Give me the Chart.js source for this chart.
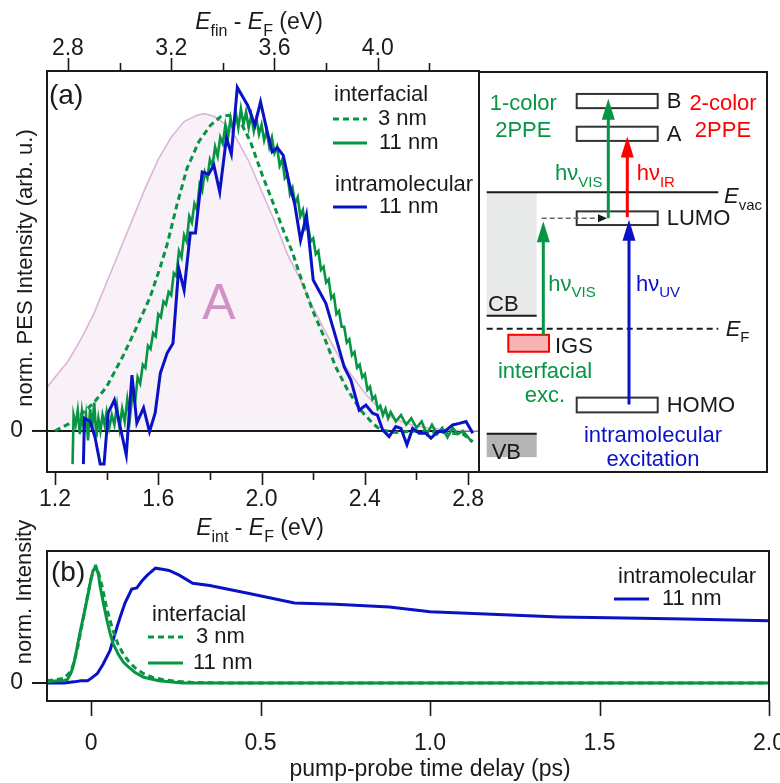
<!DOCTYPE html>
<html>
<head>
<meta charset="utf-8">
<script src="https://cdn.jsdelivr.net/npm/chart.js@4.4.1/dist/chart.umd.min.js"></script>
<style>
    html, body { margin: 0; padding: 0; background: #fff; width: 780px; height: 783px; overflow: hidden; }
    canvas { position: absolute; }
    #specChart { left: 0; top: 0; }
    #schemeChart { left: 479px; top: 71px; }
    #kinChart { left: 0; top: 500px; }
</style>
</head>
<body>
<canvas id="specChart" width="500" height="545"></canvas>
<canvas id="kinChart" width="780" height="283"></canvas>
<canvas id="schemeChart" width="290" height="402"></canvas>
<script>
// ---- panel (a): spectra, [E_int - E_F (eV), norm. intensity] ----
const pesIntra11 = [
    [1.310, -0.105], [1.314, 0.040], [1.336, 0.030], [1.355, -0.020], [1.375, -0.105], [1.390, -0.105],
    [1.406, 0.057], [1.430, 0.098], [1.452, 0.014], [1.476, -0.076], [1.498, 0.177], [1.517, 0.025],
    [1.543, 0.073], [1.566, -0.002], [1.588, 0.057], [1.608, 0.183], [1.634, 0.246], [1.657, 0.278],
    [1.679, 0.515], [1.700, 0.446], [1.724, 0.627], [1.744, 0.627], [1.770, 0.820], [1.795, 0.813],
    [1.815, 0.842], [1.838, 0.757], [1.864, 0.928], [1.883, 0.877], [1.906, 1.088], [1.947, 1.030],
    [1.974, 0.968], [1.996, 1.042], [2.022, 0.947], [2.041, 0.884], [2.061, 0.897], [2.084, 0.873],
    [2.106, 0.789], [2.128, 0.720], [2.151, 0.604], [2.174, 0.683], [2.200, 0.478], [2.249, 0.404],
    [2.287, 0.298], [2.320, 0.203], [2.346, 0.161], [2.378, 0.066], [2.404, 0.082], [2.430, 0.056],
    [2.449, 0.050], [2.469, 0.003], [2.494, -0.018], [2.520, 0.014], [2.540, 0.008], [2.563, -0.044],
    [2.585, 0.008], [2.611, -0.007], [2.637, -0.007], [2.656, -0.023], [2.682, -0.002], [2.708, -0.002],
    [2.740, 0.019], [2.766, 0.024], [2.792, 0.030], [2.818, -0.007]
];
const pesInter11 = [
    [1.268, -0.105], [1.272, 0.05], [1.280, 0.02], [1.288, 0.065], [1.296, -0.01], [1.304, 0.06],
    [1.312, 0.00], [1.320, 0.05], [1.328, -0.03], [1.336, 0.07], [1.344, 0.01], [1.352, 0.09],
    [1.360, -0.02], [1.368, 0.04], [1.376, 0.00], [1.384, 0.05], [1.392, 0.02], [1.400, 0.06],
    [1.410, 0.01], [1.420, 0.05], [1.430, 0.02], [1.440, 0.08], [1.450, 0.01], [1.460, 0.07],
    [1.470, 0.03], [1.480, 0.10], [1.490, 0.04], [1.500, 0.12], [1.510, 0.09], [1.520, 0.17],
    [1.530, 0.15], [1.540, 0.21], [1.550, 0.20], [1.560, 0.27], [1.570, 0.26], [1.580, 0.31],
    [1.590, 0.30], [1.600, 0.37], [1.610, 0.36], [1.620, 0.41], [1.630, 0.40], [1.640, 0.44],
    [1.650, 0.43], [1.660, 0.50], [1.670, 0.49], [1.680, 0.57], [1.690, 0.55], [1.700, 0.62],
    [1.710, 0.60], [1.720, 0.68], [1.730, 0.66], [1.740, 0.72], [1.750, 0.70], [1.760, 0.78],
    [1.770, 0.76], [1.780, 0.82], [1.790, 0.80], [1.800, 0.86], [1.810, 0.84], [1.820, 0.90],
    [1.830, 0.87], [1.840, 0.93], [1.850, 0.91], [1.860, 0.97], [1.870, 0.93], [1.880, 0.99],
    [1.890, 0.95], [1.900, 1.01], [1.910, 0.96], [1.920, 1.02], [1.930, 0.97], [1.940, 1.01],
    [1.950, 0.96], [1.960, 1.00], [1.970, 0.95], [1.980, 0.99], [1.990, 0.94], [2.000, 0.97],
    [2.010, 0.92], [2.020, 0.95], [2.030, 0.90], [2.040, 0.93], [2.050, 0.88], [2.060, 0.90],
    [2.070, 0.84], [2.080, 0.86], [2.090, 0.80], [2.100, 0.81], [2.110, 0.75], [2.120, 0.77],
    [2.130, 0.72], [2.140, 0.74], [2.150, 0.68], [2.160, 0.70], [2.170, 0.64], [2.180, 0.65],
    [2.190, 0.60], [2.200, 0.61], [2.210, 0.56], [2.220, 0.57], [2.230, 0.51], [2.240, 0.52],
    [2.250, 0.47], [2.260, 0.48], [2.270, 0.42], [2.280, 0.43], [2.290, 0.37], [2.300, 0.38],
    [2.310, 0.33], [2.320, 0.33], [2.330, 0.28], [2.340, 0.29], [2.350, 0.24], [2.360, 0.25],
    [2.370, 0.20], [2.380, 0.21], [2.390, 0.17], [2.400, 0.18], [2.410, 0.13], [2.420, 0.14],
    [2.430, 0.10], [2.440, 0.11], [2.450, 0.07], [2.460, 0.08], [2.470, 0.05], [2.480, 0.07],
    [2.490, 0.04], [2.500, 0.06], [2.520, 0.03], [2.540, 0.05], [2.560, 0.02], [2.580, 0.04],
    [2.600, 0.01], [2.620, 0.03], [2.640, -0.01], [2.660, 0.02], [2.680, -0.01], [2.700, 0.01],
    [2.720, -0.02], [2.740, 0.01], [2.760, -0.01], [2.780, 0.00], [2.800, -0.02], [2.815, -0.035]
];
const pesInter3 = [
    [1.200, 0.000], [1.271, 0.030], [1.349, 0.088], [1.400, 0.140], [1.465, 0.240], [1.517, 0.330],
    [1.569, 0.425], [1.608, 0.520], [1.634, 0.590], [1.672, 0.715], [1.711, 0.831], [1.757, 0.916],
    [1.802, 0.968], [1.841, 0.995], [1.873, 1.000], [1.918, 0.979], [1.957, 0.916], [2.003, 0.810],
    [2.048, 0.715], [2.087, 0.630], [2.119, 0.567], [2.151, 0.488], [2.197, 0.383], [2.242, 0.298],
    [2.287, 0.203], [2.333, 0.130], [2.384, 0.066], [2.430, 0.024], [2.462, 0.003], [2.520, -0.005],
    [2.600, 0.000], [2.700, -0.005], [2.780, -0.010], [2.818, -0.034]
];
const pesPeakA = [
    [1.169, 0.138], [1.20, 0.17], [1.25, 0.22], [1.30, 0.29], [1.35, 0.37], [1.40, 0.47],
    [1.45, 0.57], [1.50, 0.67], [1.55, 0.77], [1.60, 0.86], [1.65, 0.93], [1.70, 0.98],
    [1.75, 1.00], [1.78, 1.005], [1.82, 0.995], [1.86, 0.97], [1.90, 0.93], [1.95, 0.855],
    [2.00, 0.76], [2.05, 0.665], [2.10, 0.56], [2.15, 0.48], [2.20, 0.39], [2.25, 0.31],
    [2.30, 0.235], [2.35, 0.175], [2.40, 0.12], [2.45, 0.075], [2.50, 0.045], [2.55, 0.027],
    [2.60, 0.016], [2.65, 0.009], [2.70, 0.005], [2.75, 0.002], [2.80, 0.001], [2.846, 0.0]
];
const eIntMajor = [1.2, 1.6, 2.0, 2.4, 2.8];
const eIntMinor = [1.4, 1.8, 2.2, 2.6];
const eFinMajor = [2.8, 3.2, 3.6, 4.0];
const eFinMinor = [3.0, 3.4, 3.8, 4.2];
const hvIR = 1.55;              // E_fin = E_int + h nu_IR
const eIntRange = [1.169, 2.846];
const pesRange = [-0.13, 1.14];

// ---- panel (b): dynamics, [delay (ps), norm. intensity] ----
const kinIntra11 = [
    [-0.13, 0.0], [-0.08, 0.0], [-0.05, 0.01], [-0.03, 0.02], [-0.01, 0.02], [0.0, 0.04],
    [0.018, 0.08], [0.035, 0.16], [0.056, 0.28], [0.07, 0.42], [0.086, 0.57], [0.10, 0.69],
    [0.12, 0.81], [0.135, 0.82], [0.15, 0.88], [0.166, 0.93], [0.19, 0.99], [0.21, 0.98],
    [0.23, 0.97], [0.26, 0.93], [0.30, 0.86], [0.35, 0.84], [0.47, 0.77], [0.60, 0.69],
    [0.72, 0.68], [0.88, 0.655], [1.0, 0.615], [1.2, 0.59], [1.38, 0.57], [1.53, 0.562],
    [1.75, 0.552], [2.0, 0.537]
];
const kinInter11 = [
    [-0.13, 0.01], [-0.10, 0.02], [-0.08, 0.02], [-0.07, 0.03], [-0.06, 0.08], [-0.053, 0.14],
    [-0.045, 0.25], [-0.033, 0.43], [-0.022, 0.58], [-0.012, 0.72], [0.0, 0.90], [0.006, 0.97],
    [0.015, 1.0], [0.022, 0.93], [0.027, 0.83], [0.037, 0.68], [0.047, 0.54], [0.056, 0.43],
    [0.065, 0.34], [0.08, 0.25], [0.095, 0.18], [0.106, 0.15], [0.13, 0.09], [0.155, 0.05],
    [0.20, 0.02], [0.27, 0.0], [0.5, 0.0], [1.0, 0.0], [1.5, 0.0], [2.0, 0.0]
];
const kinInter3 = [
    [-0.13, 0.02], [-0.10, 0.03], [-0.08, 0.04], [-0.06, 0.10], [-0.05, 0.18], [-0.04, 0.30],
    [-0.03, 0.45], [-0.02, 0.60], [-0.01, 0.76], [0.0, 0.90], [0.012, 1.0], [0.022, 0.95],
    [0.032, 0.84], [0.045, 0.66], [0.055, 0.55], [0.065, 0.45], [0.08, 0.33], [0.095, 0.25],
    [0.11, 0.19], [0.13, 0.13], [0.155, 0.08], [0.18, 0.05], [0.21, 0.03], [0.25, 0.015],
    [0.30, 0.005], [0.40, 0.0], [1.0, 0.0], [2.0, 0.0]
];
const delayTicks = [0, 0.5, 1.0, 1.5, 2.0];
const delayTickLabels = ['0', '0.5', '1.0', '1.5', '2.0'];
const delayRange = [-0.13, 2.0];
const kinRange = [-0.155, 1.138];

// ---- energy scheme (eV relative to E_F) ----
const levelNames = ['B', 'A', 'LUMO', 'HOMO'];
const levelTop = [4.30, 3.70, 2.15, -1.26];
const levelBottom = [4.04, 3.44, 1.90, -1.53];
const eVac = 2.50;
const eCB = 0.24;
const eVB = -1.92;
const igsBand = [-0.11, -0.42];
const schemeRange = [-2.64, 4.72];

const FONT = '"Liberation Sans", Arial, Helvetica, sans-serif';
const GREEN = '#079543';
const BLUE = '#0a12c6';
const RED = '#ff0000';
const INK = '#1a1a1a';
const KIN_TOP = 500;   // page offset of the panel (b) canvas

const toXY = arr => arr.map(p => ({ x: p[0], y: p[1] }));

// draws text with italic / subscript parts, y is the baseline
function richText(ctx, parts, x, y, opt) {
    const size = opt.size || 22;
    const sub = Math.round(size * 0.7);
    const fontOf = k => (k.includes('i') ? 'italic ' : '') + (k.includes('s') ? sub : size) + 'px ' + FONT;
    let w = 0;
    parts.forEach(([t, k]) => { ctx.font = fontOf(k); w += ctx.measureText(t).width; });
    let cx = opt.align === 'center' ? x - w / 2 : (opt.align === 'right' ? x - w : x);
    ctx.save();
    ctx.fillStyle = opt.color || INK;
    ctx.textAlign = 'left';
    ctx.textBaseline = 'alphabetic';
    parts.forEach(([t, k]) => {
        ctx.font = fontOf(k);
        ctx.fillText(t, cx, y + (k.includes('s') ? size * 0.3 : 0));
        cx += ctx.measureText(t).width;
    });
    ctx.restore();
}

function plainText(ctx, t, x, y, size, color, align) {
    ctx.save();
    ctx.font = size + 'px ' + FONT;
    ctx.fillStyle = color || INK;
    ctx.textAlign = align || 'left';
    ctx.textBaseline = 'middle';
    ctx.fillText(t, x, y);
    ctx.restore();
}

function seg(ctx, x0, y0, x1, y1, color, w, dash) {
    ctx.save();
    ctx.strokeStyle = color;
    ctx.lineWidth = w;
    ctx.setLineDash(dash || []);
    ctx.beginPath();
    ctx.moveTo(x0, y0);
    ctx.lineTo(x1, y1);
    ctx.stroke();
    ctx.restore();
}

function xTicks(ctx, scale, values, yEdge, len) {
    values.forEach(v => {
        const px = Math.round(scale.getPixelForValue(v)) + 0.5;
        seg(ctx, px, yEdge, px, yEdge + len, INK, 1.6);
    });
}

const fixedSize = (w, h) => scale => {
    if (w !== null) scale.width = w;
    if (h !== null) scale.height = h;
    scale.paddingLeft = scale.paddingRight = scale.paddingTop = scale.paddingBottom = 0;
};

const tickFont = { family: FONT, size: 23 };

// ---------------- panel (a) spectra ----------------
const specDecor = {
    id: 'specDecor',
    beforeDatasetsDraw(chart) {
        const { ctx, chartArea: a, scales } = chart;
        const y0 = scales.y.getPixelForValue(0);
        seg(ctx, a.left, y0, a.right, y0, INK, 2);
        ctx.save();
        ctx.font = '50px ' + FONT;
        ctx.fillStyle = '#d291c5';
        ctx.textAlign = 'center';
        ctx.fillText('A', 219, 319);
        ctx.restore();
    },
    afterDraw(chart) {
        const { ctx, chartArea: a, scales } = chart;
        ctx.save();
        ctx.strokeStyle = INK;
        ctx.lineWidth = 2;
        ctx.strokeRect(a.left, a.top, a.right - a.left - 1, a.bottom - a.top);
        ctx.restore();
        xTicks(ctx, scales.x, eIntMajor, a.bottom, 13);
        xTicks(ctx, scales.x, eIntMinor, a.bottom, 8);
        xTicks(ctx, scales.xTop, eFinMajor, a.top, -13);
        xTicks(ctx, scales.xTop, eFinMinor, a.top, -8);
        const y0 = scales.y.getPixelForValue(0);
        seg(ctx, a.left - 15, y0, a.left, y0, INK, 2);

        richText(ctx, [['E', 'i'], ['fin', 's'], [' - ', ''], ['E', 'i'], ['F', 's'], [' (eV)', '']], 259, 29, { size: 23, align: 'center' });
        richText(ctx, [['E', 'i'], ['int', 's'], [' - ', ''], ['E', 'i'], ['F', 's'], [' (eV)', '']], 260, 535, { size: 23, align: 'center' });
        ctx.save();
        ctx.translate(26, 268);
        ctx.rotate(-Math.PI / 2);
        plainText(ctx, 'norm. PES Intensity (arb. u.)', 0, 0, 22, INK, 'center');
        ctx.restore();

        plainText(ctx, '(a)', 49, 96, 28);
        plainText(ctx, 'interfacial', 334, 95, 22);
        seg(ctx, 333, 119, 367, 119, GREEN, 3, [6, 4]);
        plainText(ctx, '3 nm', 378, 119, 22);
        seg(ctx, 333, 143, 367, 143, GREEN, 3);
        plainText(ctx, '11 nm', 379, 143, 22);
        plainText(ctx, 'intramolecular', 335, 185, 22);
        seg(ctx, 333, 207, 367, 207, BLUE, 3);
        plainText(ctx, '11 nm', 379, 207, 22);
    }
};

new Chart(document.getElementById('specChart'), {
    type: 'line',
    data: {
        datasets: [
            { label: 'intramolecular 11 nm', data: toXY(pesIntra11), borderColor: BLUE, borderWidth: 3, fill: false },
            { label: 'interfacial 11 nm', data: toXY(pesInter11), borderColor: GREEN, borderWidth: 2.6, fill: false },
            { label: 'interfacial 3 nm', data: toXY(pesInter3), borderColor: GREEN, borderWidth: 3, borderDash: [6, 4], fill: false },
            { label: 'A', data: toXY(pesPeakA), borderColor: '#ddb4da', borderWidth: 1.6, backgroundColor: '#f8f1f8', fill: 'origin' }
        ]
    },
    options: {
        responsive: false,
        animation: false,
        events: [],
        layout: { padding: { right: 20 } },
        elements: { point: { radius: 0 }, line: { tension: 0 } },
        plugins: {
            legend: { display: false },
            tooltip: { enabled: false },
            filler: { drawTime: 'beforeDatasetsDraw' }
        },
        scales: {
            x: {
                type: 'linear', position: 'bottom', min: eIntRange[0], max: eIntRange[1],
                grid: { display: false }, border: { display: false },
                ticks: { font: tickFont, color: INK, padding: 6, maxRotation: 0, autoSkip: false, callback: v => v.toFixed(1) },
                afterBuildTicks: s => { s.ticks = eIntMajor.map(v => ({ value: v })); },
                afterFit: fixedSize(null, 73)
            },
            xTop: {
                type: 'linear', position: 'top', min: eIntRange[0] + hvIR, max: eIntRange[1] + hvIR,
                grid: { display: false }, border: { display: false },
                ticks: { font: tickFont, color: INK, padding: 1, maxRotation: 0, autoSkip: false, callback: v => v.toFixed(1) },
                afterBuildTicks: s => { s.ticks = eFinMajor.map(v => ({ value: v })); },
                afterFit: fixedSize(null, 71)
            },
            y: {
                type: 'linear', min: pesRange[0], max: pesRange[1],
                grid: { display: false }, border: { display: false },
                ticks: { font: tickFont, color: INK, padding: 16, callback: v => String(v) },
                afterBuildTicks: s => { s.ticks = [{ value: 0 }]; },
                afterFit: fixedSize(47, null)
            }
        }
    },
    plugins: [specDecor]
});

// ---------------- energy scheme ----------------
function arrowUp(ctx, x, yFrom, yTip, color) {
    const head = 21, half = 6.5;
    seg(ctx, x, yFrom, x, yTip + head - 2, color, 3);
    ctx.save();
    ctx.fillStyle = color;
    ctx.beginPath();
    ctx.moveTo(x, yTip);
    ctx.lineTo(x - half, yTip + head);
    ctx.lineTo(x + half, yTip + head);
    ctx.closePath();
    ctx.fill();
    ctx.restore();
}

const schemeDecor = {
    id: 'schemeDecor',
    afterDraw(chart) {
        const { ctx, scales } = chart;
        const X = v => scales.x.getPixelForValue(v);
        const Y = e => scales.y.getPixelForValue(e);
        const W = chart.width, H = chart.height;

        // conduction / valence band of the substrate
        ctx.fillStyle = '#e8eaea';
        ctx.fillRect(X(7.7), Y(eVac), X(57.7) - X(7.7), Y(eCB) - Y(eVac));
        seg(ctx, X(7.7), Y(eCB), X(57.7), Y(eCB), INK, 2);
        ctx.fillStyle = '#b4b4b4';
        ctx.fillRect(X(7.7), Y(eVB), X(57.7) - X(7.7), Y(-2.35) - Y(eVB));
        seg(ctx, X(7.7), Y(eVB), X(57.7), Y(eVB), INK, 2);

        // vacuum level and Fermi level
        seg(ctx, X(7.7), Y(eVac), X(239.3), Y(eVac), INK, 2);
        seg(ctx, X(7.7), Y(0), X(239.3), Y(0), INK, 2, [6, 4]);

        // molecular levels
        ctx.save();
        ctx.strokeStyle = '#333';
        ctx.lineWidth = 2;
        levelNames.forEach((name, i) => {
            const top = Y(levelTop[i]), bot = Y(levelBottom[i]);
            ctx.fillStyle = '#fff';
            ctx.fillRect(X(97.7), top, X(178.7) - X(97.7), bot - top);
            ctx.strokeRect(X(97.7), top, X(178.7) - X(97.7), bot - top);
        });
        // interface gap state
        ctx.fillStyle = '#f7b4b4';
        ctx.strokeStyle = RED;
        ctx.fillRect(X(29.3), Y(igsBand[0]), X(70) - X(29.3), Y(igsBand[1]) - Y(igsBand[0]));
        ctx.strokeRect(X(29.3), Y(igsBand[0]), X(70) - X(29.3), Y(igsBand[1]) - Y(igsBand[0]));
        ctx.restore();

        // transfer IGS -> LUMO (dashed)
        seg(ctx, X(62.7), Y(2.026), X(121), Y(2.026), '#666', 1.5, [5, 3]);
        ctx.save();
        ctx.fillStyle = INK;
        ctx.beginPath();
        ctx.moveTo(X(128), Y(2.026));
        ctx.lineTo(X(119), Y(2.026) - 4);
        ctx.lineTo(X(119), Y(2.026) + 4);
        ctx.closePath();
        ctx.fill();
        ctx.restore();

        // excitation arrows
        arrowUp(ctx, X(64.3), Y(igsBand[0]), Y(1.971), GREEN);
        arrowUp(ctx, X(129.3), Y(2.026), Y(4.212), GREEN);
        arrowUp(ctx, X(148.3), Y(2.044), Y(3.522), RED);
        arrowUp(ctx, X(150), Y(-1.386), Y(1.996), BLUE);

        // labels
        const t = (s, x, e, color, align) => richText(ctx, [[s, '']], X(x), Y(e), { size: 22, color: color, align: align });
        t('1-color', 44.3, 3.998, GREEN, 'center');
        t('2PPE', 44.3, 3.509, GREEN, 'center');
        t('2-color', 244, 3.998, RED, 'center');
        t('2PPE', 244, 3.509, RED, 'center');
        t('B', 187.7, 4.040, INK);
        t('A', 187.7, 3.430, INK);
        t('LUMO', 187.7, 1.892, INK);
        t('HOMO', 187.7, -1.527, INK);
        t('CB', 9, 0.335, INK);
        t('VB', 12.7, -2.375, INK);
        t('IGS', 76, -0.452, INK);
        t('interfacial', 66, -0.892, GREEN, 'center');
        t('exc.', 66, -1.344, GREEN, 'center');
        t('intramolecular', 174, -2.077, BLUE, 'center');
        t('excitation', 174, -2.504, BLUE, 'center');
        richText(ctx, [['E', 'i'], ['vac', 's']], X(245), Y(2.295), { size: 22 });
        richText(ctx, [['E', 'i'], ['F', 's']], X(246.7), Y(-0.123), { size: 22 });
        richText(ctx, [['h\u03bd', ''], ['VIS', 's']], X(76), Y(2.716), { size: 22, color: GREEN });
        richText(ctx, [['h\u03bd', ''], ['IR', 's']], X(157.7), Y(2.716), { size: 22, color: RED });
        richText(ctx, [['h\u03bd', ''], ['VIS', 's']], X(69.3), Y(0.701), { size: 22, color: GREEN });
        richText(ctx, [['h\u03bd', ''], ['UV', 's']], X(157), Y(0.701), { size: 22, color: BLUE });

        // frame (left edge shared with panel a)
        ctx.save();
        ctx.strokeStyle = INK;
        ctx.lineWidth = 2;
        ctx.beginPath();
        ctx.moveTo(0, 1);
        ctx.lineTo(W - 2, 1);
        ctx.lineTo(W - 2, H - 1);
        ctx.lineTo(0, H - 1);
        ctx.stroke();
        ctx.restore();
    }
};

new Chart(document.getElementById('schemeChart'), {
    type: 'scatter',
    data: { datasets: [] },
    options: {
        responsive: false,
        animation: false,
        events: [],
        layout: { padding: 0 },
        plugins: { legend: { display: false }, tooltip: { enabled: false } },
        scales: {
            x: { type: 'linear', min: 0, max: 290, display: false },
            y: { type: 'linear', min: schemeRange[0], max: schemeRange[1], display: false }
        }
    },
    plugins: [schemeDecor]
});

// ---------------- panel (b) dynamics ----------------
const kinDecor = {
    id: 'kinDecor',
    afterDraw(chart) {
        const { ctx, chartArea: a, scales } = chart;
        const py = v => v - KIN_TOP;
        ctx.save();
        ctx.strokeStyle = INK;
        ctx.lineWidth = 2;
        ctx.strokeRect(a.left, a.top, a.right - a.left, a.bottom - a.top);
        ctx.restore();
        xTicks(ctx, scales.x, delayTicks, a.bottom, 15);
        const y0 = scales.y.getPixelForValue(0);
        seg(ctx, a.left - 15, y0, a.left, y0, INK, 2);

        plainText(ctx, 'pump-probe time delay (ps)', 430, py(770), 23, INK, 'center');
        ctx.save();
        ctx.translate(25, py(592));
        ctx.rotate(-Math.PI / 2);
        plainText(ctx, 'norm. Intensity', 0, 0, 22, INK, 'center');
        ctx.restore();

        plainText(ctx, '(b)', 51, py(573), 28);
        plainText(ctx, 'interfacial', 152, py(615), 22);
        seg(ctx, 148, py(637), 183, py(637), GREEN, 3, [6, 4]);
        plainText(ctx, '3 nm', 196, py(637), 22);
        seg(ctx, 148, py(663), 183, py(663), GREEN, 3);
        plainText(ctx, '11 nm', 193, py(663), 22);
        plainText(ctx, 'intramolecular', 618, py(577), 22);
        seg(ctx, 614, py(599), 649, py(599), BLUE, 3);
        plainText(ctx, '11 nm', 662, py(599), 22);
    }
};

new Chart(document.getElementById('kinChart'), {
    type: 'line',
    data: {
        datasets: [
            { label: 'interfacial 3 nm', data: toXY(kinInter3), borderColor: GREEN, borderWidth: 3, borderDash: [6, 4], fill: false },
            { label: 'interfacial 11 nm', data: toXY(kinInter11), borderColor: GREEN, borderWidth: 3, fill: false },
            { label: 'intramolecular 11 nm', data: toXY(kinIntra11), borderColor: BLUE, borderWidth: 3, fill: false }
        ]
    },
    options: {
        responsive: false,
        animation: false,
        events: [],
        layout: { padding: { top: 551 - KIN_TOP, right: 11 } },
        elements: { point: { radius: 0 }, line: { tension: 0 } },
        plugins: { legend: { display: false }, tooltip: { enabled: false } },
        scales: {
            x: {
                type: 'linear', min: delayRange[0], max: delayRange[1],
                grid: { display: false }, border: { display: false },
                ticks: { font: tickFont, color: INK, padding: 21, maxRotation: 0, autoSkip: false, callback: (v, i) => delayTickLabels[i] },
                afterBuildTicks: s => { s.ticks = delayTicks.map(v => ({ value: v })); },
                afterFit: fixedSize(null, 783 - 701)
            },
            y: {
                type: 'linear', min: kinRange[0], max: kinRange[1],
                grid: { display: false }, border: { display: false },
                ticks: { font: tickFont, color: INK, padding: 16, callback: v => String(v) },
                afterBuildTicks: s => { s.ticks = [{ value: 0 }]; },
                afterFit: fixedSize(47, null)
            }
        }
    },
    plugins: [kinDecor]
});
</script>
</body>
</html>
